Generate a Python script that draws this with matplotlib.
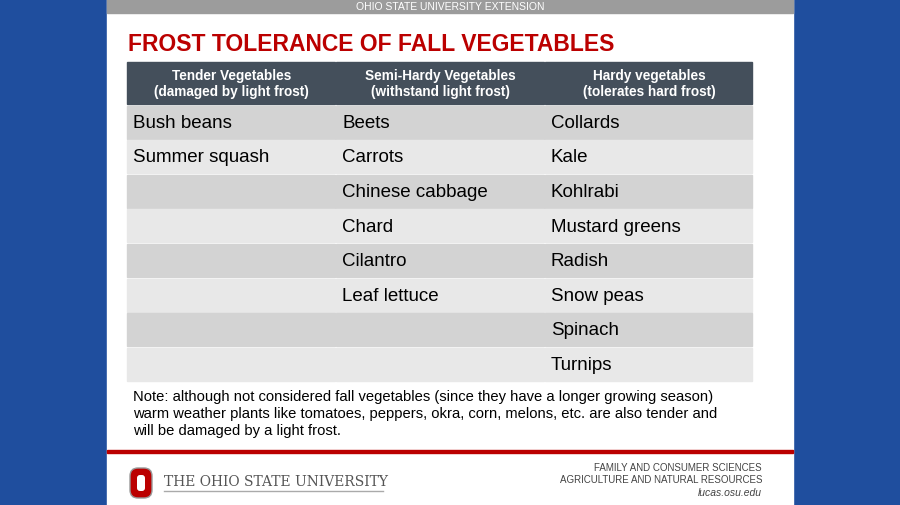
import matplotlib

matplotlib.use("Agg")
import matplotlib.pyplot as plt
from matplotlib.patches import Rectangle, FancyBboxPatch

headers = [
    "Tender Vegetables\n(damaged by light frost)",
    "Semi-Hardy Vegetables\n(withstand light frost)",
    "Hardy vegetables\n(tolerates hard frost)",
]
tender = ["Bush beans", "Summer squash"]
semi_hardy = ["Beets", "Carrots", "Chinese cabbage", "Chard", "Cilantro", "Leaf lettuce"]
hardy = ["Collards", "Kale", "Kohlrabi", "Mustard greens", "Radish", "Snow peas", "Spinach", "Turnips"]
note = ("Note: although not considered fall vegetables (since they have a longer growing season)\n"
        "warm weather plants like tomatoes, peppers, okra, corn, melons, etc. are also tender and\n"
        "will be damaged by a light frost.")

plt.rcParams["font.family"] = ["Liberation Sans", "DejaVu Sans"]
fig = plt.figure(figsize=(9, 5.06), dpi=100)
fig.patch.set_facecolor("#1f4e9e")
ax = fig.add_axes([0, 0, 1, 1])
ax.set_xlim(0, 900)
ax.set_ylim(506, 0)
ax.axis("off")

# slide
ax.add_patch(Rectangle((107, 0), 686, 506, color="white"))
ax.add_patch(Rectangle((107, 0), 686, 14, color="#9c9c9c"))
ax.text(450, 7, "OHIO STATE UNIVERSITY EXTENSION", color="white", fontsize=7.5,
        ha="center", va="center")
ax.text(128, 44, "FROST TOLERANCE OF FALL VEGETABLES", color="#bb0000", fontsize=16.5,
        fontweight="bold", ha="left", va="center")

# table
cols = [tender, semi_hardy, hardy]
xs = [127, 336, 545, 753]
top, head_h, row_h = 63, 42, 34.6
n_rows = max(len(c) for c in cols)
for j in range(3):
    x0, x1 = xs[j], xs[j + 1]
    ax.add_patch(Rectangle((x0, top), x1 - x0 - 1.5, head_h, color="#444f5b"))
    ax.text((x0 + x1) / 2, top + head_h / 2, headers[j], color="white", fontsize=9.8,
            fontweight="bold", ha="center", va="center", linespacing=1.2)
    for i in range(n_rows):
        y0 = top + head_h + i * row_h
        c = "#d3d3d3" if i % 2 == 0 else "#e8e8e8"
        ax.add_patch(Rectangle((x0, y0 + 1.5), x1 - x0 - 1.5, row_h - 1.5, color=c))
        if i < len(cols[j]):
            ax.text(x0 + 6, y0 + row_h / 2 + 1, cols[j][i], fontsize=13.5,
                    ha="left", va="center", color="black")

ax.text(133, 414, note, fontsize=10.6, ha="left", va="center", linespacing=1.3)

# footer
ax.add_patch(Rectangle((107, 451), 686, 3, color="#bb0000"))
ax.add_patch(FancyBboxPatch((130, 469), 22, 30, boxstyle="round,pad=0,rounding_size=8",
                            fc="#bb0000", ec="#999999", lw=1))
ax.add_patch(FancyBboxPatch((137, 476), 8, 16, boxstyle="round,pad=0,rounding_size=3",
                            fc="white", ec="none"))
ax.text(164, 482, "THE OHIO STATE UNIVERSITY", family="DejaVu Serif", fontsize=10,
        color="#555555", ha="left", va="center")
ax.plot([164, 383], [492, 492], color="#aaaaaa", lw=1)
ax.text(762, 468, "FAMILY AND CONSUMER SCIENCES", fontsize=7, color="#444444",
        ha="right", va="center")
ax.text(762, 480, "AGRICULTURE AND NATURAL RESOURCES", fontsize=7, color="#444444",
        ha="right", va="center")
ax.text(762, 493, "lucas.osu.edu", fontsize=7.5, style="italic", color="#444444",
        ha="right", va="center")

fig.savefig("out.png", dpi=100)
